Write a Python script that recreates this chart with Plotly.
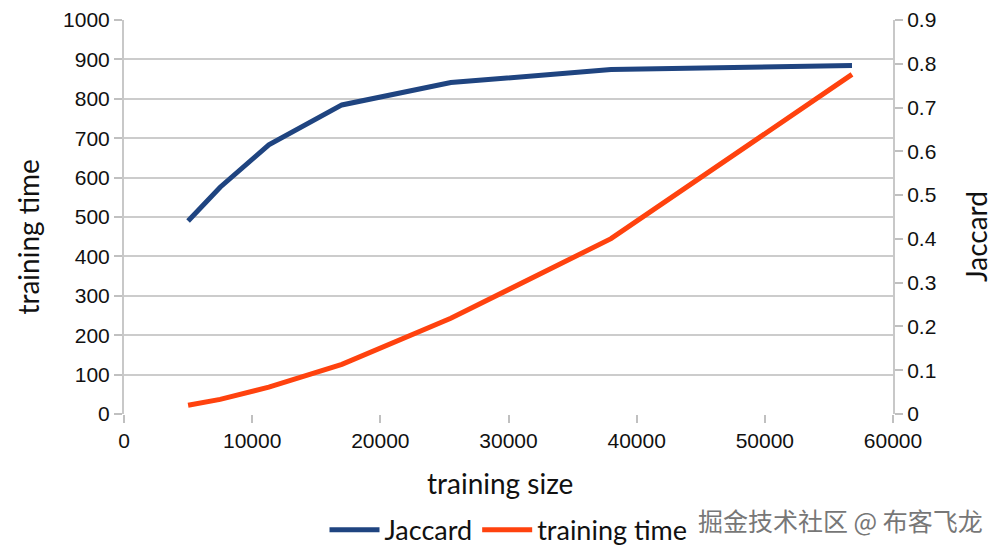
import plotly.graph_objects as go

# values
training_size = [5000, 7500, 11300, 17000, 25500, 38000, 56800]
jaccard = [0.441, 0.518, 0.615, 0.706, 0.757, 0.787, 0.796]
training_time = [22, 37, 68, 126, 243, 445, 862]

x_ticks = [0, 10000, 20000, 30000, 40000, 50000, 60000]
left_ticks = list(range(0, 1001, 100))
right_ticks = [0, 0.1, 0.2, 0.3, 0.4, 0.5, 0.6, 0.7, 0.8, 0.9]

tick_font = dict(family="Liberation Sans", size=21, color="#111111")
title_font = dict(family="Lato", size=28, color="#111111")

fig = go.Figure()
fig.add_trace(go.Scatter(x=training_size, y=jaccard, name="Jaccard",
                         mode="lines", yaxis="y2",
                         line=dict(color="#1f4480", width=5)))
fig.add_trace(go.Scatter(x=training_size, y=training_time, name="training time",
                         mode="lines",
                         line=dict(color="#ff420e", width=5)))

# page body adds an 8px offset, margins allow for it
fig.update_layout(
    width=1000, height=559,
    margin=dict(l=116, r=115, t=12, b=150),
    paper_bgcolor="white", plot_bgcolor="white",
    showlegend=True,
    legend=dict(orientation="h", x=0.5, xanchor="center", y=-0.295, yanchor="middle",
                font=dict(family="Lato", size=27, color="#111111"),
                traceorder="normal", itemwidth=50, tracegroupgap=0),
    xaxis=dict(range=[0, 60000], tickvals=x_ticks, ticktext=[str(v) for v in x_ticks],
               showgrid=False, zeroline=False, showline=False,
               ticks="outside", ticklen=8, tickcolor="#c0c0c0", tickwidth=2,
               tickfont=tick_font, automargin=False),
    yaxis=dict(range=[0, 1000], tickvals=left_ticks,
               showgrid=True, gridcolor="#cccccc", gridwidth=2,
               zeroline=False, showline=True, linecolor="#c8c8c8", linewidth=2,
               ticks="outside", ticklen=8, tickcolor="#c0c0c0", tickwidth=2,
               tickfont=tick_font, automargin=False, ticklabeloverflow="allow"),
    yaxis2=dict(range=[0, 0.9], tickvals=right_ticks,
                ticktext=[("%g" % v) for v in right_ticks],
                overlaying="y", side="right",
                showgrid=False, zeroline=False, showline=True,
                linecolor="#c8c8c8", linewidth=2,
                ticks="outside", ticklen=8, tickcolor="#c0c0c0", tickwidth=2,
                tickfont=tick_font, automargin=False, ticklabeloverflow="allow"),
)

# axis titles (placed as in the original, slightly off-centre)
fig.add_annotation(text="training size", xref="paper", yref="paper",
                   x=0.489, y=-0.175, xanchor="center", yanchor="middle",
                   showarrow=False, font=title_font)
fig.add_annotation(text="training time", xref="paper", yref="paper", textangle=-90,
                   x=-0.125, y=0.45, xanchor="center", yanchor="middle",
                   showarrow=False, font=title_font)
fig.add_annotation(text="Jaccard", xref="paper", yref="paper", textangle=-90,
                   x=1.107, y=0.45, xanchor="center", yanchor="middle",
                   showarrow=False, font=title_font)

fig.add_annotation(text="掘金技术社区 @ 布客飞龙", xref="paper", yref="paper",
                   x=1.12, y=-0.27, xanchor="right", yanchor="middle", showarrow=False,
                   font=dict(family="Noto Sans CJK SC", size=25, color="#777777"))

fig.write_html("out.html")
